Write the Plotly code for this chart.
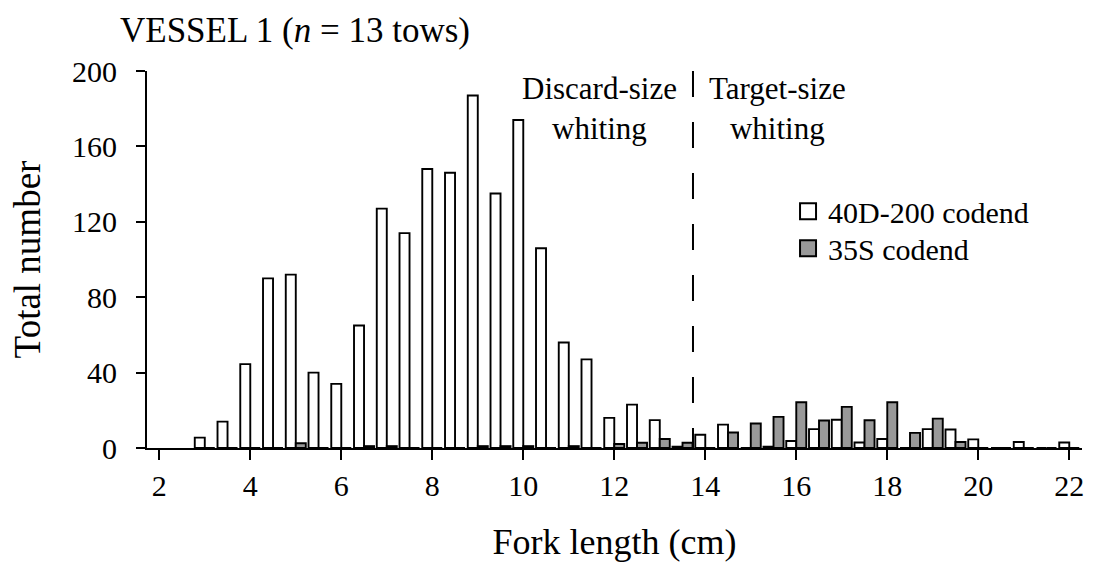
import plotly.graph_objects as go

# Fork length bins (cm)
length_bins = [3.0, 3.5, 4.0, 4.5, 5.0, 5.5, 6.0, 6.5, 7.0, 7.5, 8.0, 8.5, 9.0, 9.5,
               10.0, 10.5, 11.0, 11.5, 12.0, 12.5, 13.0, 13.5, 14.0, 14.5, 15.0, 15.5,
               16.0, 16.5, 17.0, 17.5, 18.0, 18.5, 19.0, 19.5, 20.0, 20.5, 21.0, 21.5, 22.0]

# 40D-200 codend counts
codend_40d200 = [5.5, 14, 44.5, 90, 92, 40, 34, 65, 127, 114, 148, 146, 187, 135,
                 174, 106, 56, 47, 16, 23, 14.8, 0.7, 7, 12.4, 0, 0.7,
                 3.7, 10, 15, 2.9, 4.8, 0, 10, 9.8, 4.6, 0, 3.2, 0, 2.9]

# 35S codend counts
codend_35s = [0, 0, 0, 0, 2.5, 0, 0, 1, 1, 0, 0, 0, 1, 1,
              1, 0, 1, 0, 2.1, 2.8, 4.8, 2.8, 0, 8.2, 13, 16.5,
              24.3, 14.6, 21.8, 14.7, 24.3, 8, 15.6, 3.2, 0, 0, 0, 0, 0]

x_ticks = [2, 4, 6, 8, 10, 12, 14, 16, 18, 20, 22]
y_ticks = [0, 40, 80, 120, 160, 200]
size_threshold = 13.73

FONT = "Liberation Serif"
GRAY = "#999999"

fig = go.Figure()
fig.add_trace(go.Bar(x=length_bins, y=codend_40d200, name="40D-200 codend",
                     marker=dict(color="white", line=dict(color="black", width=1.9)),
                     showlegend=False))
fig.add_trace(go.Bar(x=length_bins, y=codend_35s, name="35S codend",
                     marker=dict(color=GRAY, line=dict(color="black", width=1.9)),
                     showlegend=False))
# legend entries
fig.add_trace(go.Scatter(x=[None], y=[None], mode="markers", name="40D-200 codend",
                         legend="legend",
                         marker=dict(symbol="square", size=18, color="white",
                                     line=dict(color="black", width=2))))
fig.add_trace(go.Scatter(x=[None], y=[None], mode="markers", name="35S codend",
                         legend="legend2",
                         marker=dict(symbol="square", size=18, color=GRAY,
                                     line=dict(color="black", width=2))))

fig.add_shape(type="line", xref="x", yref="y", x0=size_threshold, x1=size_threshold,
              y0=200, y1=0, line=dict(color="black", width=2, dash="26px,25px"))

fig.add_annotation(x=size_threshold, y=200, xref="x", yref="y", xanchor="right",
                   yanchor="top", xshift=-14, yshift=2, text="Discard-size<br>whiting",
                   showarrow=False, align="center", font=dict(family=FONT, size=31, color="black"))
fig.add_annotation(x=size_threshold, y=200, xref="x", yref="y", xanchor="left",
                   yanchor="top", xshift=14, yshift=2, text="Target-size<br>whiting",
                   showarrow=False, align="center", font=dict(family=FONT, size=31, color="black"))

legend_style = dict(xanchor="left", yanchor="top", font=dict(family=FONT, size=30, color="black"),
                    bgcolor="rgba(0,0,0,0)", itemsizing="trace")

fig.update_layout(
    width=1094, height=562,
    margin=dict(l=147, r=12, t=71, b=114, autoexpand=False),
    paper_bgcolor="white", plot_bgcolor="white",
    barmode="group", bargap=0.12, bargroupgap=0,
    font=dict(family=FONT, color="black", size=30),
    title=dict(text="VESSEL 1 (<i>n</i> = 13 tows)", x=120/1094, xanchor="left",
               y=1 - 30/562, yanchor="middle", font=dict(family=FONT, size=35, color="black")),
    legend=dict(x=0.6856, y=0.697, **legend_style),
    legend2=dict(x=0.6856, y=0.599, **legend_style),
    xaxis=dict(range=[1.73, 22.28], tickmode="array", tickvals=x_ticks, automargin=False,
               showline=True, linecolor="black", linewidth=2, ticks="outside",
               ticklen=10, tickwidth=2, tickcolor="black", showgrid=False, zeroline=False,
               tickfont=dict(family=FONT, size=30, color="black"),
               title=dict(text="Fork length (cm)", standoff=29,
                          font=dict(family=FONT, size=36, color="black"))),
    yaxis=dict(range=[0, 200], tickmode="array", tickvals=y_ticks, automargin=False,
               showline=True, linecolor="black", linewidth=2, ticks="outside",
               ticklen=9, tickwidth=2, tickcolor="black", showgrid=False, zeroline=False,
               ticklabelstandoff=13,
               tickfont=dict(family=FONT, size=30, color="black"),
               title=dict(text="Total number", standoff=20,
                          font=dict(family=FONT, size=37, color="black"))),
)

fig.write_html("out.html")
